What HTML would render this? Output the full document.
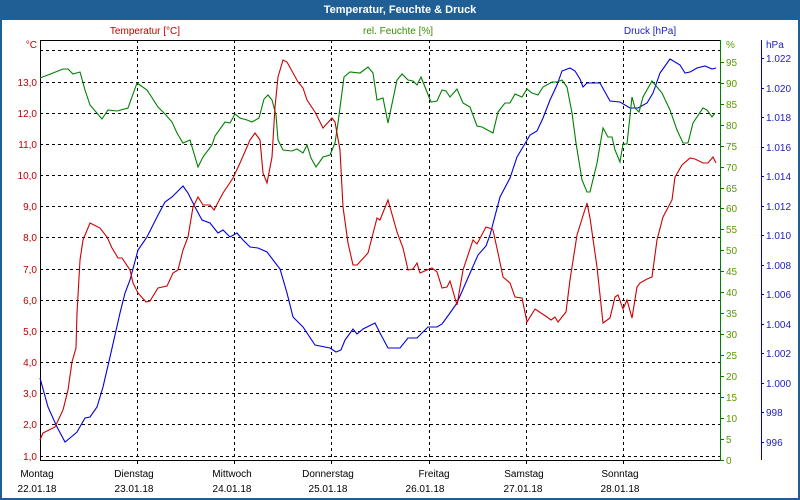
<!DOCTYPE html>
<html><head><meta charset="utf-8"><style>
body{margin:0;background:#fff;overflow:hidden}
svg{display:block}
svg text{font-family:"Liberation Sans",sans-serif;font-size:10px}
</style></head><body>
<svg width="800" height="500" xmlns="http://www.w3.org/2000/svg">
<rect x="0" y="0" width="800" height="500" fill="#1f5f96"/>
<rect x="2" y="20" width="796" height="478" fill="#fff"/>
<text x="400" y="13" fill="#fff" text-anchor="middle" font-weight="bold" style="font-size:11px">Temperatur, Feuchte &amp; Druck</text>
<text x="145" y="34" fill="#c00000" text-anchor="middle">Temperatur [°C]</text>
<text x="398" y="34" fill="#3a8a00" text-anchor="middle">rel. Feuchte [%]</text>
<text x="650" y="34" fill="#2020c0" text-anchor="middle">Druck [hPa]</text>
<text x="37" y="48" fill="#c00000" text-anchor="end">°C</text>
<text x="726" y="48" fill="#5a9a00">%</text>
<text x="766" y="48" fill="#2020c0">hPa</text>
<g stroke="#000" stroke-dasharray="3,3" stroke-width="1">
<line x1="40" y1="50.5" x2="720" y2="50.5"/><line x1="40" y1="82.5" x2="720" y2="82.5"/><line x1="40" y1="113.5" x2="720" y2="113.5"/><line x1="40" y1="144.5" x2="720" y2="144.5"/><line x1="40" y1="175.5" x2="720" y2="175.5"/><line x1="40" y1="206.5" x2="720" y2="206.5"/><line x1="40" y1="237.5" x2="720" y2="237.5"/><line x1="40" y1="269.5" x2="720" y2="269.5"/><line x1="40" y1="300.5" x2="720" y2="300.5"/><line x1="40" y1="331.5" x2="720" y2="331.5"/><line x1="40" y1="362.5" x2="720" y2="362.5"/><line x1="40" y1="393.5" x2="720" y2="393.5"/><line x1="40" y1="424.5" x2="720" y2="424.5"/><line x1="40" y1="456.5" x2="720" y2="456.5"/>
<line x1="137.5" y1="40" x2="137.5" y2="460"/><line x1="234.5" y1="40" x2="234.5" y2="460"/><line x1="331.5" y1="40" x2="331.5" y2="460"/><line x1="429.5" y1="40" x2="429.5" y2="460"/><line x1="526.5" y1="40" x2="526.5" y2="460"/><line x1="623.5" y1="40" x2="623.5" y2="460"/>
</g>
<line x1="40" y1="40.5" x2="720" y2="40.5" stroke="#000"/>
<line x1="40.5" y1="40" x2="40.5" y2="461" stroke="#000"/>
<line x1="40" y1="460.5" x2="720" y2="460.5" stroke="#000"/>
<g stroke="#000"><line x1="137.5" y1="460" x2="137.5" y2="464"/><line x1="234.5" y1="460" x2="234.5" y2="464"/><line x1="331.5" y1="460" x2="331.5" y2="464"/><line x1="429.5" y1="460" x2="429.5" y2="464"/><line x1="526.5" y1="460" x2="526.5" y2="464"/><line x1="623.5" y1="460" x2="623.5" y2="464"/></g>
<line x1="720.5" y1="40" x2="720.5" y2="461" stroke="#008000"/>
<line x1="761.5" y1="40" x2="761.5" y2="460" stroke="#0000cc"/>
<g fill="#c00000" text-anchor="end">
<text x="37" y="86">13,0</text><text x="37" y="117">12,0</text><text x="37" y="148">11,0</text><text x="37" y="179">10,0</text><text x="37" y="210">9,0</text><text x="37" y="241">8,0</text><text x="37" y="273">7,0</text><text x="37" y="304">6,0</text><text x="37" y="335">5,0</text><text x="37" y="366">4,0</text><text x="37" y="397">3,0</text><text x="37" y="428">2,0</text><text x="37" y="460">1,0</text>
</g>
<g fill="#000" text-anchor="middle">
<text x="37" y="477">Montag</text><text x="134" y="477">Dienstag</text><text x="232" y="477">Mittwoch</text><text x="328" y="477">Donnerstag</text><text x="434" y="477">Freitag</text><text x="524" y="477">Samstag</text><text x="620" y="477">Sonntag</text>
<text x="37" y="492">22.01.18</text><text x="134" y="492">23.01.18</text><text x="232" y="492">24.01.18</text><text x="328" y="492">25.01.18</text><text x="425" y="492">26.01.18</text><text x="523" y="492">27.01.18</text><text x="620" y="492">28.01.18</text>
</g>
<g stroke="#008000">
<line x1="720" y1="460.5" x2="724" y2="460.5"/><line x1="720" y1="439.5" x2="724" y2="439.5"/><line x1="720" y1="418.5" x2="724" y2="418.5"/><line x1="720" y1="397.5" x2="724" y2="397.5"/><line x1="720" y1="376.5" x2="724" y2="376.5"/><line x1="720" y1="355.5" x2="724" y2="355.5"/><line x1="720" y1="334.5" x2="724" y2="334.5"/><line x1="720" y1="313.5" x2="724" y2="313.5"/><line x1="720" y1="292.5" x2="724" y2="292.5"/><line x1="720" y1="271.5" x2="724" y2="271.5"/><line x1="720" y1="250.5" x2="724" y2="250.5"/><line x1="720" y1="229.5" x2="724" y2="229.5"/><line x1="720" y1="208.5" x2="724" y2="208.5"/><line x1="720" y1="188.5" x2="724" y2="188.5"/><line x1="720" y1="167.5" x2="724" y2="167.5"/><line x1="720" y1="146.5" x2="724" y2="146.5"/><line x1="720" y1="125.5" x2="724" y2="125.5"/><line x1="720" y1="104.5" x2="724" y2="104.5"/><line x1="720" y1="83.5" x2="724" y2="83.5"/><line x1="720" y1="62.5" x2="724" y2="62.5"/>
</g>
<g fill="#5a9a00">
<text x="726" y="464">0</text><text x="726" y="443">5</text><text x="726" y="422">10</text><text x="726" y="401">15</text><text x="726" y="380">20</text><text x="726" y="359">25</text><text x="726" y="338">30</text><text x="726" y="317">35</text><text x="726" y="296">40</text><text x="726" y="275">45</text><text x="726" y="254">50</text><text x="726" y="233">55</text><text x="726" y="212">60</text><text x="726" y="192">65</text><text x="726" y="171">70</text><text x="726" y="150">75</text><text x="726" y="129">80</text><text x="726" y="108">85</text><text x="726" y="87">90</text><text x="726" y="66">95</text>
</g>
<g stroke="#0000cc">
<line x1="761" y1="58.5" x2="764" y2="58.5"/><line x1="761" y1="88.5" x2="764" y2="88.5"/><line x1="761" y1="117.5" x2="764" y2="117.5"/><line x1="761" y1="147.5" x2="764" y2="147.5"/><line x1="761" y1="176.5" x2="764" y2="176.5"/><line x1="761" y1="206.5" x2="764" y2="206.5"/><line x1="761" y1="235.5" x2="764" y2="235.5"/><line x1="761" y1="265.5" x2="764" y2="265.5"/><line x1="761" y1="294.5" x2="764" y2="294.5"/><line x1="761" y1="324.5" x2="764" y2="324.5"/><line x1="761" y1="353.5" x2="764" y2="353.5"/><line x1="761" y1="383.5" x2="764" y2="383.5"/><line x1="761" y1="412.5" x2="764" y2="412.5"/><line x1="761" y1="442.5" x2="764" y2="442.5"/>
</g>
<g fill="#2020c0">
<text x="766" y="62">1.022</text><text x="766" y="92">1.020</text><text x="766" y="121">1.018</text><text x="766" y="151">1.016</text><text x="766" y="180">1.014</text><text x="766" y="210">1.012</text><text x="766" y="239">1.010</text><text x="766" y="269">1.008</text><text x="766" y="298">1.006</text><text x="766" y="328">1.004</text><text x="766" y="357">1.002</text><text x="766" y="387">1.000</text><text x="766" y="416">998</text><text x="766" y="446">996</text>
</g>
<g fill="none" stroke-width="1.1">
<polyline stroke="#0000dd" points="40,378 48,407 57,427 65,442 70,438 77,432 85,418 90,417 97,407 103,387 110,357 120,313 125,293 130,280 138,250 147,237 157,217 165,202 172,197 183,186 188,193 195,207 202,220 210,223 218,233 223,230 230,237 237,233 243,240 250,247 258,248 267,252 280,269 287,293 293,317 303,327 315,345 330,348 336,352 341,350 345,340 353,329 357,334 363,329 375,323 380,333 388,348 393,348 400,348 408,338 417,338 428,327 437,327 442,324 450,313 457,303 467,280 478,255 486,246 490,235 500,197 510,178 517,157 523,147 530,135 537,131 543,118 550,100 557,85 562,71 570,68 575,71 580,79 583,87 587,83 600,83 610,101 620,102 630,108 638,108 647,103 653,93 660,73 670,59 680,65 685,73 690,72 697,68 705,66 712,69 716,68"/>
<polyline stroke="#008000" points="40,78 53,73 63,69 68,69 73,74 80,72 85,90 90,105 102,119 108,110 117,111 128,108 137,83 147,90 158,107 165,114 172,122 177,133 183,143 190,140 198,167 203,157 212,145 215,136 225,122 230,123 235,114 240,118 247,120 252,122 259,118 264,99 268,95 272,100 276,115 278,140 283,150 292,151 297,149 303,153 307,145 311,158 316,167 323,157 330,155 335,143 338,123 344,77 350,72 360,73 368,67 373,73 377,100 383,98 388,123 397,80 402,74 408,80 413,81 417,85 421,77 427,92 431,102 437,101 442,90 446,91 450,97 457,89 463,103 470,107 477,126 482,127 493,133 498,112 505,103 510,103 515,94 522,97 527,89 532,93 538,95 543,87 552,82 557,82 562,80 567,87 572,113 576,143 582,180 587,192 590,192 597,163 603,128 608,137 612,137 615,150 620,162 623,144 627,144 632,97 635,108 639,112 643,97 652,81 662,93 670,110 677,130 683,143 688,143 693,123 703,108 707,110 712,117 715,113"/>
<polyline stroke="#cc0000" points="40,440 43,433 55,427 63,410 68,390 72,362 76,348 77,313 80,260 83,240 90,223 100,228 107,237 112,248 118,258 122,258 130,270 133,283 138,293 146,302 150,301 158,288 167,286 173,273 178,270 183,250 188,237 193,207 198,197 203,205 210,205 214,210 223,193 233,178 240,163 250,140 255,133 260,140 263,173 267,183 272,157 275,107 278,77 283,60 287,62 298,82 303,88 307,100 315,112 323,128 332,118 335,122 340,150 343,207 348,243 353,265 357,265 368,253 377,218 380,220 388,200 397,232 403,248 408,270 413,269 417,263 420,273 427,270 432,268 437,272 442,288 447,287 450,281 457,305 463,270 473,240 477,244 486,227 492,229 493,230 498,253 503,277 510,283 515,297 522,298 527,322 535,309 547,317 551,320 555,317 558,322 566,312 570,280 577,235 587,203 590,218 597,267 603,323 610,318 615,297 618,295 623,309 627,300 632,318 637,287 640,283 647,279 652,277 657,240 663,217 672,200 675,177 682,165 690,158 695,159 703,163 708,163 713,157 716,163"/>
</g>
</svg>
</body></html>
